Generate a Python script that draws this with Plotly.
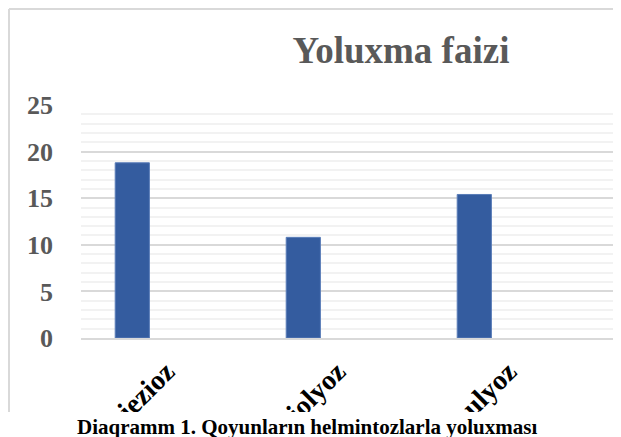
import plotly.graph_objects as go

categories = ["Moniezioz", "Fassiolyoz", "Diktiokaulyoz"]
values = [18.8, 10.8, 15.4]
y_ticks = [0, 5, 10, 15, 20, 25]
title_text = "Yoluxma faizi"
caption_text = "Diaqramm 1. Qoyunların helmintozlarla yoluxması"

# the page body has an 8px margin, so the figure starts at (8, 8)
OFF = 8
W, H = 621 - OFF, 437 - OFF
L, R, T, B = 81 - OFF, 0, 105 - OFF, 437 - 338
pw, ph = W - L - R, H - T - B

def px_x(px):  # page pixel -> paper coordinate
    return (px - OFF - L) / pw

def px_y(py):
    return (H - B - (py - OFF)) / ph

serif = "Liberation Serif, Times New Roman, serif"

fig = go.Figure()
fig.add_trace(go.Bar(
    x=categories, y=values,
    width=0.2, offset=-0.3,
    marker=dict(color="#345C9F", line=dict(color="#5A7DB8", width=1)),
    showlegend=False, hoverinfo="x+y",
))

fig.update_layout(
    width=W, height=H,
    margin=dict(l=L, r=R, t=T, b=B, pad=0, autoexpand=False),
    paper_bgcolor="white", plot_bgcolor="white",
    title=dict(text=f"<b>{title_text}</b>", x=(401 - OFF) / W, xanchor="center",
               y=1 - (50 - OFF) / H, yanchor="middle",
               font=dict(family=serif, size=37, color="#595959")),
    xaxis=dict(type="category", range=[-0.5, -0.5 + pw / 171.0],
               tickangle=-45, showgrid=False, ticks="", zeroline=False,
               showline=True, linecolor="#d9d9d9", linewidth=2,
               tickvals=categories, ticktext=[f"<b>{c}</b>" for c in categories],
               tickfont=dict(family=serif, size=28, color="#000000"),
               ticklabelstandoff=4, automargin=False),
    yaxis=dict(range=[0, 25], tickvals=y_ticks, ticktext=[f"<b>{v}</b>" for v in y_ticks],
               showgrid=True, gridcolor="#d9d9d9", gridwidth=2,
               minor=dict(dtick=1, showgrid=True, gridcolor="#f2f2f2", gridwidth=2),
               zeroline=False, showline=False, ticks="",
               tickfont=dict(family=serif, size=26, color="#595959"),
               ticklabelstandoff=27, automargin=False),
    font=dict(family=serif),
)

# chart border (left and top), cropped at right/bottom
fig.add_shape(type="line", xref="paper", yref="paper",
              x0=px_x(9), x1=px_x(9), y0=px_y(9), y1=px_y(412),
              line=dict(color="#d9d9d9", width=2), layer="above")
fig.add_shape(type="line", xref="paper", yref="paper",
              x0=px_x(9), x1=px_x(640), y0=px_y(9), y1=px_y(9),
              line=dict(color="#d9d9d9", width=2), layer="above")
# white strip below the cropped chart
fig.add_shape(type="rect", xref="paper", yref="paper",
              x0=px_x(0), x1=px_x(640), y0=px_y(412), y1=px_y(460),
              fillcolor="white", line=dict(width=0), layer="above")

fig.add_annotation(text=f"<b>{caption_text}</b>", xref="paper", yref="paper",
                   x=px_x(307), y=px_y(427), xanchor="center", yanchor="middle",
                   showarrow=False, font=dict(family=serif, size=21, color="#000000"))

fig.write_html("out.html")
